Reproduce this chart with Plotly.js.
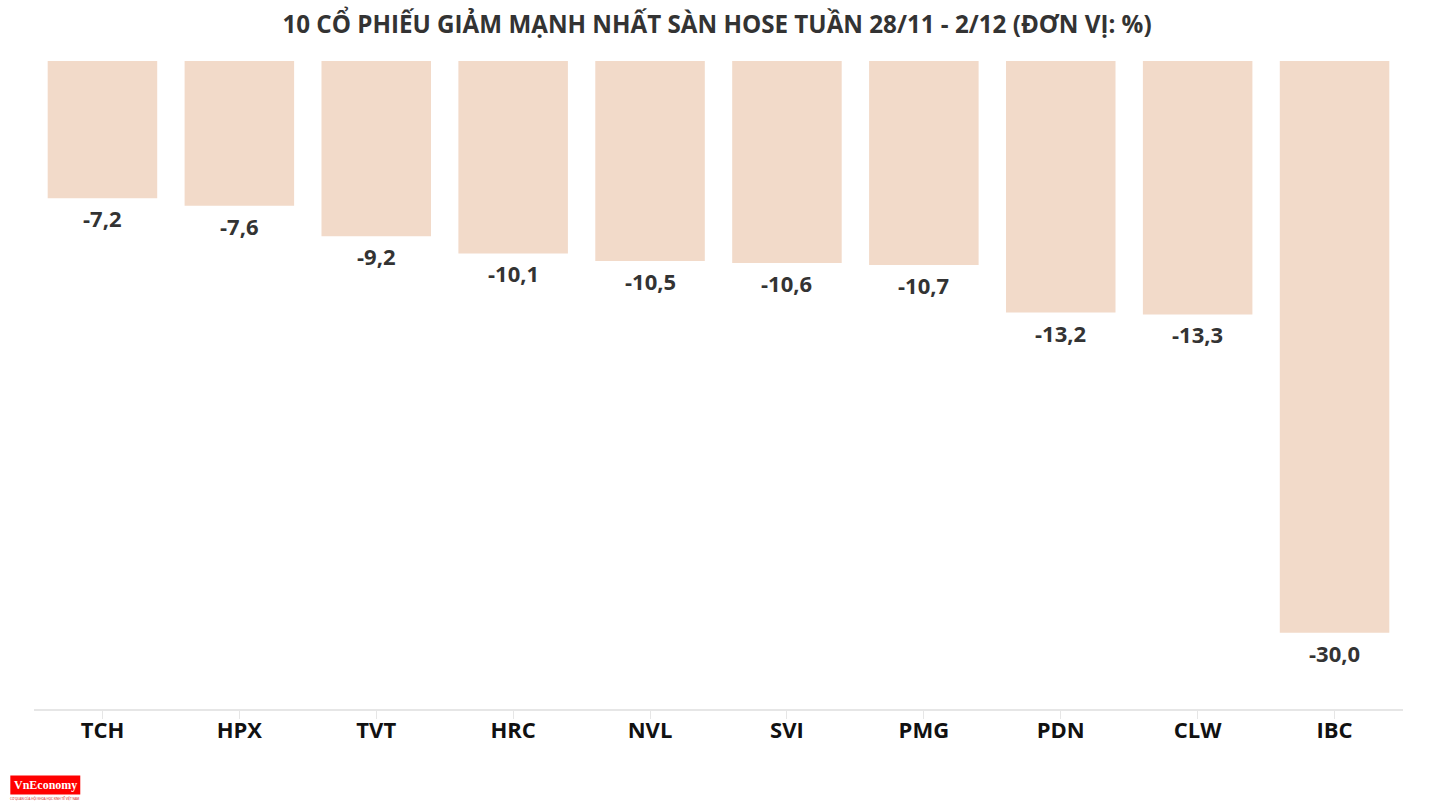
<!DOCTYPE html>
<html>
<head>
<meta charset="utf-8">
<script src="https://cdn.plot.ly/plotly-3.0.1.min.js"></script>
<style>html,body{margin:0;padding:0;background:#fff;}#chart{width:1434px;height:806px;}</style>
</head>
<body>
<div id="chart"></div>
<script>
const categories = ["TCH", "HPX", "TVT", "HRC", "NVL", "SVI", "PMG", "PDN", "CLW", "IBC"];
const values = [-7.2, -7.6, -9.2, -10.1, -10.5, -10.6, -10.7, -13.2, -13.3, -30.0];
const titleText = "10 CỔ PHIẾU GIẢM MẠNH NHẤT SÀN HOSE TUẦN 28/11 - 2/12 (ĐƠN VỊ: %)";

const FONT = "Open Sans, Noto Sans, sans-serif";

const trace = {
  type: "bar",
  x: categories,
  y: values,
  marker: { color: "#f2dac9", line: { width: 0 } },
  hoverinfo: "x+y"
};

function fmt(v) { return v.toFixed(1).replace(".", ","); }

const valueLabels = categories.map((c, i) => ({
  x: c, y: values[i], xref: "x", yref: "y",
  text: fmt(values[i]), showarrow: false,
  xanchor: "center", yanchor: "middle", yshift: -20,
  font: { family: FONT, size: 22, color: "#333333", weight: 700 }
}));

const layout = {
  width: 1434,
  height: 806,
  margin: { l: 34, r: 31, t: 61, b: 97 },
  paper_bgcolor: "#ffffff",
  plot_bgcolor: "#ffffff",
  separators: ",.",
  bargap: 0.2,
  showlegend: false,
  title: {
    text: titleText,
    font: { family: FONT, size: 24.2, color: "#333333", weight: 700 },
    x: 0.5, xanchor: "center",
    y: 0.969, yanchor: "middle"
  },
  xaxis: {
    type: "category",
    showgrid: false,
    zeroline: false,
    showline: true,
    linecolor: "#e6e6e6",
    linewidth: 2,
    ticks: "outside",
    ticklen: 8,
    tickcolor: "#e6e6e6",
    tickwidth: 1,
    ticklabelstandoff: -7,
    tickfont: { family: FONT, size: 22, color: "#111111", weight: 700 },
    fixedrange: true
  },
  yaxis: {
    range: [-34, 0],
    showgrid: false,
    zeroline: false,
    showline: false,
    showticklabels: false,
    ticks: "",
    fixedrange: true
  },
  shapes: [
    { type: "rect", xref: "paper", yref: "paper", x0: -0.0173, x1: 0.0338, y0: -0.1318, y1: -0.1025,
      fillcolor: "#ff0000", line: { width: 0 } }
  ],
  annotations: valueLabels.concat([
    { xref: "paper", yref: "paper", x: 0.0082, y: -0.1175, xanchor: "center", yanchor: "middle",
      text: "<b>VnEconomy</b>", showarrow: false,
      font: { family: "Liberation Serif, DejaVu Serif, serif", size: 12, color: "#ffffff" } },
    { xref: "paper", yref: "paper", x: 0.0082, y: -0.1385, xanchor: "center", yanchor: "middle",
      text: "CƠ QUAN CỦA HỘI KHOA HỌC KINH TẾ VIỆT NAM", showarrow: false,
      font: { family: FONT, size: 3, color: "#cc0000" } }
  ])
};

Plotly.newPlot("chart", [trace], layout, { displayModeBar: false });
</script>
</body>
</html>
